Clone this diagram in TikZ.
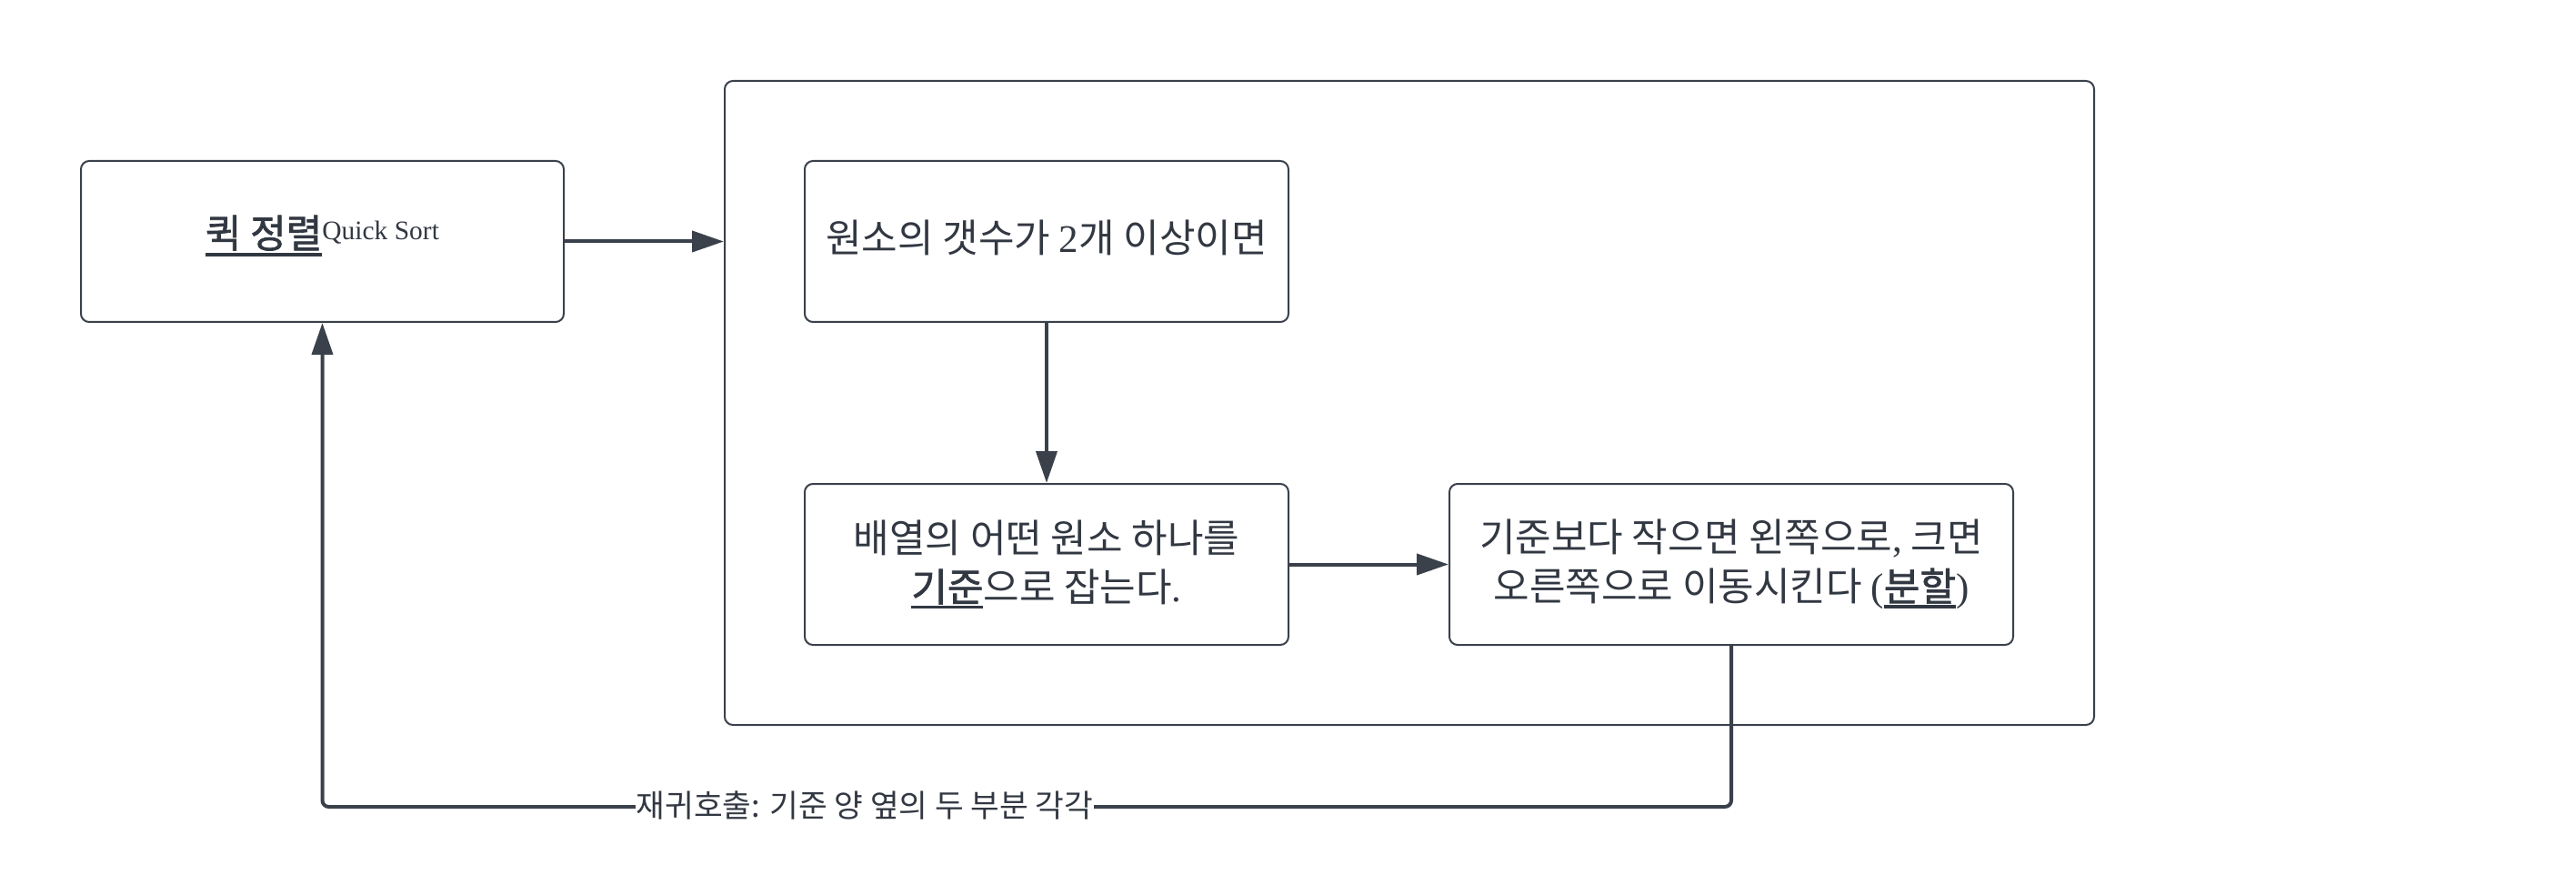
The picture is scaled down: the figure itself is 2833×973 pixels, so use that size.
\documentclass[tikz,border=0pt]{standalone}
\usepackage{fontspec}
\setmainfont{Liberation Serif}
\newfontfamily\kr{Noto Sans CJK KR}
\newfontfamily\krb[FakeBold=1.6]{Noto Sans CJK KR}
\usetikzlibrary{arrows.meta}
\definecolor{lc}{RGB}{58,65,75}
\definecolor{tc}{RGB}{50,56,66}
\newsavebox\ulbox
\newcommand\myul[3]{\sbox\ulbox{#3}\rlap{\rule[#1]{\wd\ulbox}{#2}}\usebox\ulbox}
\newcommand\lt[1]{{\rmfamily #1}}
\newcommand\up[2]{\raisebox{#1}[\height][\depth]{#2}}
\begin{document}
\begin{tikzpicture}[x=1pt,y=-1pt,
  box/.style={draw=lc, line width=2pt, rounded corners=9pt, inner sep=0pt, text=tc,
    align=center, font=\kr\fontsize{43}{54}\selectfont},
  conn/.style={draw=lc, line width=4pt, -{Triangle[length=35pt,width=23pt]}},
  lbl/.style={fill=white, text=tc, inner xsep=1pt, inner ysep=0pt, font=\kr\fontsize{34.5}{38}\selectfont}]
\useasboundingbox (0,0) rectangle (2833,973);
\node[box, minimum width=1506pt, minimum height=708pt] (cont) at (1550,443) {};
\node[box, minimum width=531pt, minimum height=177pt] (t) at (354.5,265.5)
  {\up{6pt}{\myul{-10pt}{4pt}{\krb 퀵 정렬}\raisebox{9pt}{\rmfamily\fontsize{29.5}{31}\selectfont Quick Sort}}};
\node[box, minimum width=532pt, minimum height=177pt] (a) at (1151,265.5)
  {\up{4pt}{원소의 갯수가 \lt{2}개 이상이면}};
\node[box, minimum width=532pt, minimum height=177pt] (b) at (1151,620.5)
  {배열의 어떤 원소 하나를\\\myul{-8pt}{3.5pt}{\krb 기준}으로 잡는다\lt{.}};
\node[box, minimum width=620pt, minimum height=177pt] (c) at (1904,620.5)
  {기준보다 작으면 왼쪽으로\lt{,} 크면\\오른쪽으로 이동시킨다 \lt{(}\myul{-8pt}{3.5pt}{\krb 분할}\lt{)}};
\draw[conn] (t.east) -- (t.east -| cont.west);
\draw[conn] (a.south) -- (b.north);
\draw[conn] (b.east) -- (c.west);
\draw[conn, rounded corners=7pt] (c.south) -- ++(0,177) -| (t.south);
\node[lbl] (rec) at (951,886) {재귀호출: 기준 양 옆의 두 부분 각각};
\end{tikzpicture}
\end{document}
